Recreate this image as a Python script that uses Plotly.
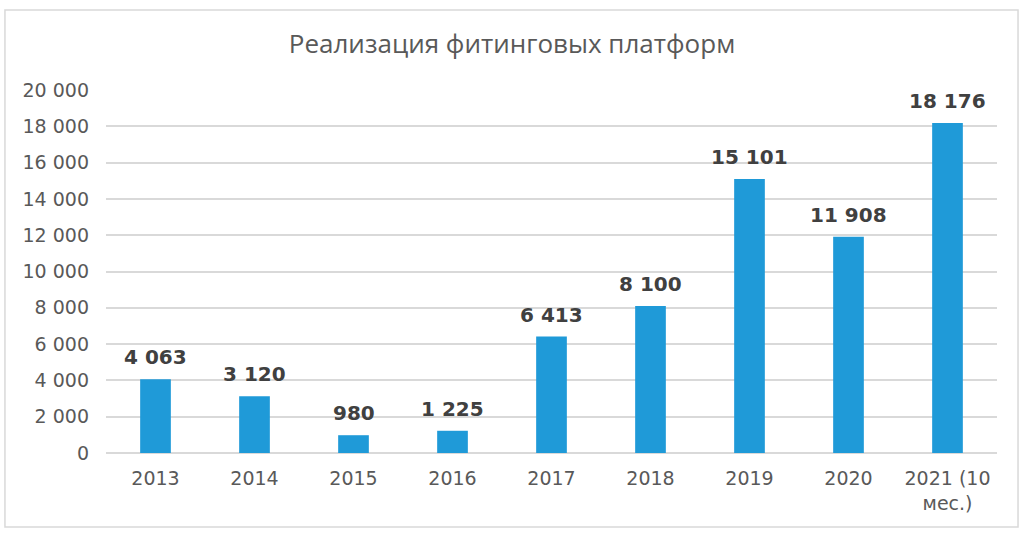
import plotly.graph_objects as go

years = ["2013", "2014", "2015", "2016", "2017", "2018", "2019", "2020", "2021 (10<br>мес.)"]
sales = [4063, 3120, 980, 1225, 6413, 8100, 15101, 11908, 18176]
labels = ["4 063", "3 120", "980", "1 225", "6 413", "8 100", "15 101", "11 908", "18 176"]
y_ticks = list(range(0, 20001, 2000))
y_ticktext = [f"{v:,}".replace(",", " ") for v in y_ticks]

fig = go.Figure()
fig.add_trace(go.Bar(
    x=years, y=sales,
    width=0.31,
    marker=dict(color="#1f9ad8", line=dict(width=0)),
    showlegend=False,
))

# value labels above the bars (x as category index, so "2013" is not read as a number)
for i, (v, lab) in enumerate(zip(sales, labels)):
    fig.add_annotation(x=i, y=v, text=lab, showarrow=False,
                       yanchor="bottom", yshift=8,
                       font=dict(family="DejaVu Sans", size=20, color="#404040", weight="bold"))

# outer frame of the chart
fig.add_shape(type="rect", xref="paper", yref="paper",
              x0=-0.1134, x1=1.0236, y0=-0.2039, y1=1.2204,
              line=dict(color="#d9d9d9", width=1.5), fillcolor="rgba(0,0,0,0)",
              layer="below")

fig.update_layout(
    title=dict(text="Реализация фитинговых платформ", x=0.5, xanchor="center",
               y=0.918, yanchor="middle",
               font=dict(family="Open Sans", size=26, color="#595959")),
    width=1024, height=535,
    margin=dict(l=106, r=27, t=90, b=82),
    plot_bgcolor="white", paper_bgcolor="white",
    bargap=0.69,
)
fig.update_xaxes(
    type="category",
    showgrid=False, showline=False, ticks="", ticklabelstandoff=12,
    tickfont=dict(family="DejaVu Sans", size=19, color="#595959"),
)
fig.update_yaxes(
    range=[0, 20000], tickmode="array", tickvals=y_ticks, ticktext=y_ticktext,
    showgrid=True, gridcolor="#d9d9d9", gridwidth=1.5,
    zeroline=True, zerolinecolor="#d9d9d9", zerolinewidth=1.5,
    showline=False, ticks="", ticklabelstandoff=16,
    tickfont=dict(family="DejaVu Sans", size=19, color="#595959"),
)

fig.write_html("out.html", config={"displayModeBar": False},
               post_script="document.body.style.margin='0';")
